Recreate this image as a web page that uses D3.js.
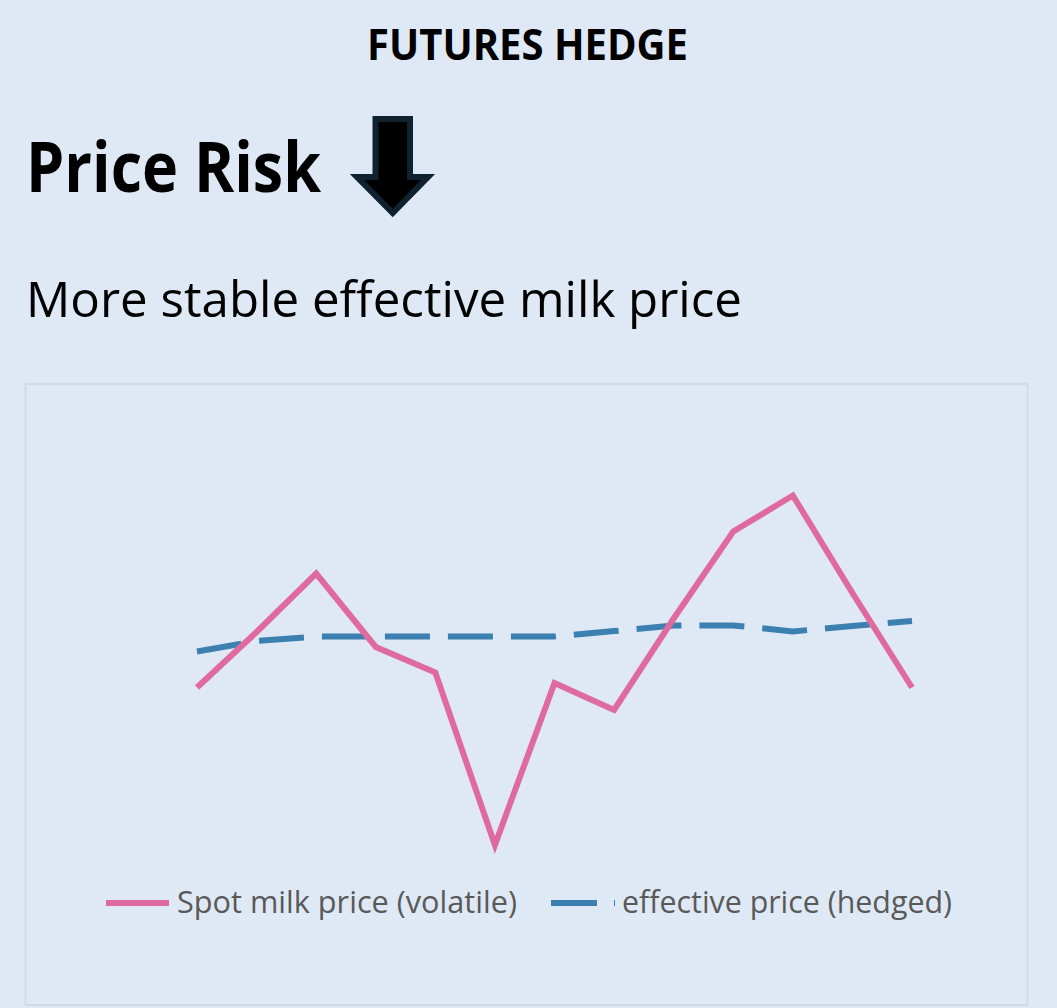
<!DOCTYPE html>
<html>
<head>
<meta charset="utf-8">
<script src="https://cdn.jsdelivr.net/npm/d3@7/dist/d3.min.js"></script>
<style>
  html, body { margin: 0; padding: 0; background: #dfe9f5; }
  svg { display: block; }
</style>
</head>
<body>
<svg id="chart" width="1057" height="1008"></svg>
<script>
// ---- Data ----
const periods = ["P1","P2","P3","P4","P5","P6","P7","P8","P9","P10","P11","P12","P13"];
const spotPrice = [18.3, 20.15, 22.1, 19.65, 18.8, 13.05, 18.45, 17.55, 20.6, 23.5, 24.7, 21.45, 18.3];
const hedgedPrice = [19.5, 19.85, 20.0, 20.0, 20.0, 20.0, 20.0, 20.18, 20.37, 20.37, 20.17, 20.35, 20.52];
const seriesNames = ["Spot milk price (volatile)", "effective price (hedged)"];
const titleText = "FUTURES HEDGE";
const headingText = "Price Risk";
const subText = "More stable effective milk price";

// ---- Layout ----
const W = 1057, H = 1008;
const bg = "#dfe9f5";
const pink = "#df6a9e";
const blue = "#3b80b0";
const svg = d3.select("#chart");
svg.append("rect").attr("width", W).attr("height", H).attr("fill", bg);

const font = "'Open Sans', 'Noto Sans', sans-serif";

svg.append("text")
  .attr("x", 367).attr("y", 60)
  .attr("font-family", font).attr("font-weight", 700).attr("font-size", 43)
  .attr("textLength", 321).attr("lengthAdjust", "spacingAndGlyphs")
  .attr("fill", "#000").text(titleText);

svg.append("text")
  .attr("x", 26).attr("y", 192)
  .attr("font-family", font).attr("font-weight", 700).attr("font-size", 70)
  .attr("textLength", 295).attr("lengthAdjust", "spacingAndGlyphs")
  .attr("fill", "#000").text(headingText);

// down arrow
const arrow = d3.path();
arrow.moveTo(375.5, 119); arrow.lineTo(410, 119); arrow.lineTo(410, 177);
arrow.lineTo(428, 177); arrow.lineTo(392.7, 213); arrow.lineTo(357, 177);
arrow.lineTo(375.5, 177); arrow.closePath();
svg.append("path").attr("d", arrow.toString())
  .attr("fill", "#000").attr("stroke", "#10222f").attr("stroke-width", 6)
  .attr("stroke-linejoin", "miter");

svg.append("text")
  .attr("x", 26).attr("y", 317)
  .attr("font-family", font).attr("font-weight", 400).attr("font-size", 49)
  .attr("textLength", 716).attr("lengthAdjust", "spacingAndGlyphs")
  .attr("fill", "#000").text(subText);

// chart frame
svg.append("rect")
  .attr("x", 25.5).attr("y", 384).attr("width", 1002).attr("height", 621)
  .attr("fill", bg).attr("stroke", "#d6dade").attr("stroke-width", 2);

// scales
const x = d3.scalePoint().domain(periods).range([197, 912]);
const y = d3.scaleLinear().domain([10, 30]).range([936.5, 336.5]);

const line = d3.line().x((d, i) => x(periods[i])).y(d => y(d));

svg.append("path").datum(hedgedPrice)
  .attr("d", line).attr("fill", "none")
  .attr("stroke", blue).attr("stroke-width", 6)
  .attr("stroke-dasharray", "45,18");

svg.append("path").datum(spotPrice)
  .attr("d", line).attr("fill", "none")
  .attr("stroke", pink).attr("stroke-width", 6)
  .attr("stroke-linejoin", "miter");

// legend
const legY = 903;
svg.append("line").attr("x1", 106).attr("x2", 169).attr("y1", legY).attr("y2", legY)
  .attr("stroke", pink).attr("stroke-width", 6);
svg.append("text").attr("x", 177).attr("y", 913)
  .attr("font-family", font).attr("font-size", 31).attr("fill", "#595959")
  .attr("textLength", 340).attr("lengthAdjust", "spacingAndGlyphs")
  .text(seriesNames[0]);

svg.append("line").attr("x1", 551).attr("x2", 615).attr("y1", legY).attr("y2", legY)
  .attr("stroke", blue).attr("stroke-width", 6).attr("stroke-dasharray", "46,17");
svg.append("text").attr("x", 622).attr("y", 913)
  .attr("font-family", font).attr("font-size", 31).attr("fill", "#595959")
  .attr("textLength", 330).attr("lengthAdjust", "spacingAndGlyphs")
  .text(seriesNames[1]);
</script>
</body>
</html>
